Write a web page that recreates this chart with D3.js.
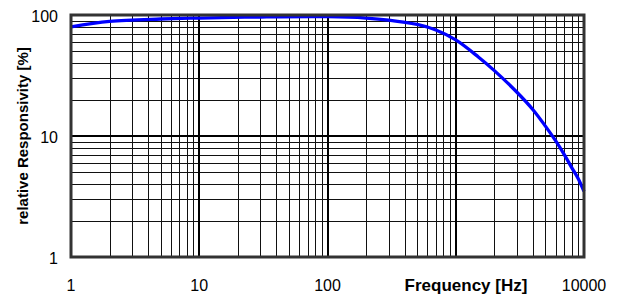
<!DOCTYPE html>
<html>
<head>
<meta charset="utf-8">
<script src="https://cdn.jsdelivr.net/npm/d3@7"></script>
<style>
  body { margin: 0; background: #fff; }
  text { font-family: "Liberation Sans", Arial, sans-serif; }
</style>
</head>
<body>
<div id="chart"></div>
<script>
// responsivity vs frequency
var freq = [1, 2, 5, 10, 30, 100, 200, 300, 500, 700, 1000, 1500, 2000, 3000, 4000, 5000, 6000, 7000, 8000, 9000, 10000];
var resp = [79.6, 88.4, 92.7, 94.4, 96.3, 96.8, 94.4, 90.9, 83.5, 75.2, 62.2, 45.0, 34.7, 23.0, 16.5, 12.07, 9.15, 7.06, 5.51, 4.45, 3.48];

var xTicks = [1, 10, 100, 10000];
var yTicks = [1, 10, 100];
var xTitle = "Frequency [Hz]";
var yTitle = "relative Responsivity [%]";

var width = 621, height = 297;
var plotL = 71, plotR = 584, plotT = 15, plotB = 257;

var svg = d3.select("#chart").append("svg")
  .attr("width", width)
  .attr("height", height);

var x = d3.scaleLog().domain([1, 10000]).range([plotL, plotR]);
var y = d3.scaleLog().domain([1, 100]).range([plotB, plotT]);

// minor grid: 2..9 in every decade
var minorX = [], minorY = [];
for (var d = 1; d < 10000; d *= 10)
  for (var k = 2; k < 10; k++) minorX.push(d * k);
for (var d2 = 1; d2 < 100; d2 *= 10)
  for (var k2 = 2; k2 < 10; k2++) minorY.push(d2 * k2);

var grid = svg.append("g");
grid.selectAll(".vminor").data(minorX).enter().append("line")
  .attr("x1", function (d) { return Math.round(x(d)) + 0.5; })
  .attr("x2", function (d) { return Math.round(x(d)) + 0.5; })
  .attr("y1", plotT).attr("y2", plotB)
  .attr("stroke", "#111").attr("stroke-width", 1);
grid.selectAll(".hminor").data(minorY).enter().append("line")
  .attr("y1", function (d) { return Math.round(y(d)) + 0.5; })
  .attr("y2", function (d) { return Math.round(y(d)) + 0.5; })
  .attr("x1", plotL).attr("x2", plotR)
  .attr("stroke", "#111").attr("stroke-width", 1);

// major grid
grid.selectAll(".vmajor").data([10, 100, 1000]).enter().append("line")
  .attr("x1", function (d) { return Math.round(x(d)); })
  .attr("x2", function (d) { return Math.round(x(d)); })
  .attr("y1", plotT).attr("y2", plotB)
  .attr("stroke", "#000").attr("stroke-width", 2);
grid.selectAll(".hmajor").data([10]).enter().append("line")
  .attr("y1", function (d) { return Math.round(y(d)); })
  .attr("y2", function (d) { return Math.round(y(d)); })
  .attr("x1", plotL).attr("x2", plotR)
  .attr("stroke", "#000").attr("stroke-width", 2);

// curve
var line = d3.line()
  .x(function (d, i) { return x(freq[i]); })
  .y(function (d) { return y(d); })
  .curve(d3.curveCatmullRom.alpha(0.5));
svg.append("path")
  .datum(resp)
  .attr("d", line)
  .attr("fill", "none")
  .attr("stroke", "#0000ff")
  .attr("stroke-width", 3.3);

// frame
svg.append("rect")
  .attr("x", plotL).attr("y", plotT)
  .attr("width", plotR - plotL).attr("height", plotB - plotT)
  .attr("fill", "none").attr("stroke", "#333").attr("stroke-width", 3);

// tick labels
svg.selectAll(".ylab").data(yTicks).enter().append("text")
  .attr("x", 58).attr("y", function (d) { return y(d) + 1; })
  .attr("dy", "0.35em")
  .attr("text-anchor", "end")
  .attr("font-size", 16)
  .text(function (d) { return d; });

svg.selectAll(".xlab").data(xTicks).enter().append("text")
  .attr("x", function (d) { return x(d); }).attr("y", 285)
  .attr("dy", "0.35em")
  .attr("text-anchor", "middle")
  .attr("font-size", 16)
  .text(function (d) { return d; });

svg.append("text")
  .attr("x", 466).attr("y", 285)
  .attr("dy", "0.35em")
  .attr("text-anchor", "middle")
  .attr("font-size", 17)
  .attr("font-weight", "bold")
  .text(xTitle);

svg.append("text")
  .attr("transform", "translate(23," + ((plotT + plotB) / 2) + ") rotate(-90)")
  .attr("dy", "0.35em")
  .attr("text-anchor", "middle")
  .attr("font-size", 15)
  .attr("font-weight", "bold")
  .text(yTitle);
</script>
</body>
</html>
